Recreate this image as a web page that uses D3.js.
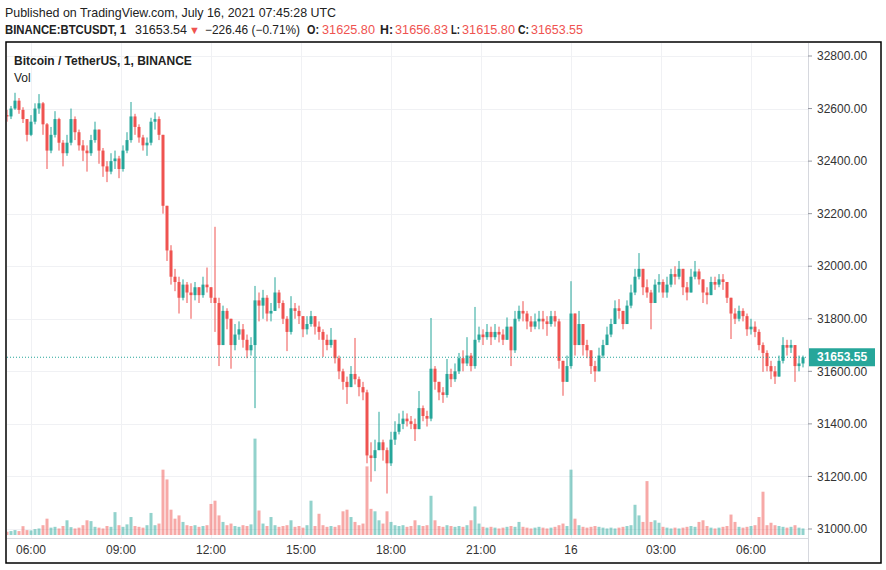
<!DOCTYPE html>
<meta charset="utf-8">
<script src="https://d3js.org/d3.v7.min.js"></script>
<style>
  body { margin: 0; background: #fff; }
  text { font-family: "Liberation Sans", Arial, sans-serif; }
</style>
<div id="chart"></div>
<script>

// 8-minute candles, starting 2021-07-15 05:08 UTC
var startTime = new Date(Date.UTC(2021, 6, 15, 5, 8));
var barMinutes = 8;
var firstOpen = 32575;

var closes = [
  32570, 32600, 32630, 32595, 32560, 32500, 32550, 32600, 32620, 32540,
  32440, 32500, 32560, 32470, 32430, 32470, 32560, 32510, 32460, 32440,
  32430, 32480, 32520, 32440, 32380, 32360, 32400, 32410, 32370, 32440,
  32480, 32570, 32530, 32490, 32460, 32470, 32550, 32560, 32500, 32230,
  32060, 31960, 31940, 31880, 31930, 31900, 31890, 31920, 31890, 31930,
  31920, 31880, 31860, 31700, 31830, 31800, 31700, 31740, 31760, 31720,
  31680, 31700, 31870, 31850, 31880, 31820, 31830, 31900, 31860, 31800,
  31750, 31840, 31830, 31810, 31760, 31780, 31810, 31770, 31750, 31720,
  31700, 31720, 31650, 31600, 31560, 31540, 31590, 31570, 31540, 31520,
  31280, 31270, 31300, 31330, 31300, 31250, 31340, 31370, 31400, 31420,
  31410, 31400, 31380, 31460, 31430, 31420, 31610, 31560, 31520, 31510,
  31590, 31570, 31600, 31650, 31630, 31660, 31620, 31720, 31740, 31730,
  31750, 31730, 31750, 31740, 31720, 31770, 31680, 31800, 31830, 31820,
  31790, 31770, 31790, 31800, 31790, 31780, 31810, 31790, 31640, 31560,
  31620, 31820, 31700, 31780, 31700, 31680, 31620, 31600, 31660, 31700,
  31740, 31780, 31840, 31830, 31780, 31850, 31900, 31960, 31990, 31920,
  31900, 31860, 31930, 31940, 31900, 31930, 31970, 31960, 31990, 31920,
  31900, 31960, 31980, 31950, 31900, 31890, 31940, 31930, 31950, 31940,
  31880, 31820, 31800, 31830, 31810, 31760, 31770, 31750, 31700, 31670,
  31620, 31600, 31580, 31640, 31700, 31690, 31700, 31620, 31630, 31653.55
];

var highs = [
  32595, 32610, 32660, 32640, 32605, 32560, 32575, 32620, 32655, 32625,
  32545, 32530, 32590, 32565, 32480, 32500, 32600, 32570, 32520, 32480,
  32460, 32500, 32550, 32520, 32450, 32400, 32430, 32440, 32420, 32460,
  32510, 32625, 32580, 32540, 32500, 32490, 32565, 32585, 32570, 32500,
  32180, 32080, 31990, 31960, 31950, 31940, 31935, 31940, 31920, 31960,
  31995, 31920, 32150, 31880, 31850, 31840, 31800, 31780, 31790, 31780,
  31740, 31730, 31925, 31900, 31910, 31890, 31860, 31958, 31910, 31870,
  31810, 31886, 31860, 31850, 31810, 31810, 31830, 31810, 31790, 31760,
  31740, 31765, 31720, 31660, 31610, 31580, 31620, 31727, 31580, 31560,
  31530, 31330, 31340, 31446, 31340, 31310, 31370, 31410, 31440, 31450,
  31440, 31430, 31420, 31525, 31470, 31450, 31803, 31620, 31560, 31540,
  31647, 31610, 31630, 31670, 31680, 31730, 31670, 31845, 31770, 31760,
  31780, 31770, 31780, 31770, 31760, 31805, 31760, 31830, 31850, 31867,
  31830, 31810, 31820, 31830, 31830, 31810, 31830, 31830, 31800, 31640,
  31660, 31943, 31820, 31830, 31780, 31720, 31670, 31640, 31690, 31720,
  31770, 31800, 31870, 31875, 31830, 31870, 31930, 31990, 32050, 31990,
  31950, 31910, 31950, 31970, 31950, 31960, 31990, 32000, 32020, 31980,
  31940, 31990, 32020, 31990, 31950, 31920, 31960, 31960, 31970, 31970,
  31940, 31880, 31840, 31850, 31840, 31820, 31800, 31790, 31760, 31710,
  31680, 31640, 31620, 31660, 31730, 31720, 31720, 31700, 31660, 31660
];

var lows = [
  32550, 32560, 32595, 32580, 32545, 32475, 32495, 32540, 32580, 32500,
  32370, 32430, 32490, 32440, 32380, 32420, 32460, 32480, 32440, 32400,
  32360, 32420, 32470, 32390, 32340, 32320, 32350, 32370, 32335, 32360,
  32430, 32470, 32500, 32470, 32440, 32420, 32460, 32520, 32480, 32200,
  32020, 31930, 31905, 31820, 31870, 31860, 31800, 31870, 31860, 31880,
  31900, 31860, 31750, 31620, 31700, 31760, 31610, 31680, 31720, 31690,
  31650, 31660, 31460, 31790, 31800, 31790, 31790, 31840, 31840, 31780,
  31677, 31740, 31800, 31780, 31730, 31740, 31770, 31740, 31720, 31655,
  31680, 31690, 31630, 31570, 31530, 31476, 31560, 31550, 31505, 31490,
  31250, 31180, 31220, 31300, 31260, 31135, 31240, 31320, 31360, 31380,
  31390, 31380, 31335, 31390, 31410, 31390, 31410, 31530, 31490, 31480,
  31500, 31540, 31560, 31590, 31600, 31620, 31600, 31610, 31710, 31700,
  31720, 31700, 31720, 31710, 31700, 31730, 31620, 31670, 31790, 31790,
  31760, 31750, 31760, 31760, 31760, 31735, 31770, 31770, 31610, 31507,
  31570, 31610, 31660, 31700, 31660, 31650, 31590, 31560, 31600, 31650,
  31710, 31730, 31790, 31800, 31760, 31790, 31840, 31890, 31950, 31890,
  31880, 31760, 31860, 31900, 31880, 31880, 31920, 31930, 31950, 31890,
  31870, 31900, 31950, 31930, 31860, 31855, 31890, 31910, 31920, 31910,
  31860, 31723, 31780, 31790, 31790, 31735, 31740, 31730, 31680, 31598,
  31600, 31570, 31552, 31580, 31630, 31660, 31670, 31560, 31600, 31615
];

// tallest 1-minute volume bar (BTC) seen in each 8-minute slot
var volumes = [
  20, 24, 30, 24, 54, 30, 28, 36, 40, 60,
  100, 45, 50, 40, 55, 90, 48, 40, 45, 60,
  90, 85, 50, 45, 40, 55, 50, 140, 60, 50,
  65, 110, 55, 50, 45, 60, 135, 60, 70, 400,
  340, 155, 100, 120, 80, 60, 55, 60, 50, 55,
  60, 190, 210, 120, 80, 60, 70, 55, 50, 60,
  55, 65, 590, 150, 70, 55, 110, 60, 50, 55,
  60, 90, 50, 55, 45, 60, 210, 55, 130, 60,
  50, 55, 50, 60, 145, 155, 110, 80, 60, 70,
  420, 160, 145, 90, 70, 145, 80, 60, 55, 60,
  50, 55, 90, 60, 55, 60, 240, 90, 55, 50,
  60, 55, 50, 55, 50, 60, 90, 175, 70, 50,
  45, 50, 45, 40, 45, 50, 55, 50, 80, 50,
  45, 40, 45, 50, 45, 40, 45, 50, 60, 70,
  55, 400, 100, 60, 50, 45, 50, 55, 50, 45,
  40, 45, 40, 45, 50, 55, 60, 185, 120, 80,
  330, 80, 90, 75, 50, 45, 40, 45, 40, 45,
  50, 55, 50, 80, 90, 55, 45, 40, 45, 50,
  55, 125, 80, 50, 45, 50, 55, 60, 110, 265,
  60, 75, 60, 55, 50, 45, 50, 60, 45, 40
];

var priceTicks = [31000, 31200, 31400, 31600, 31800, 32000, 32200, 32400, 32600, 32800];
var timeTicks = [
  Date.UTC(2021, 6, 15, 6), Date.UTC(2021, 6, 15, 9), Date.UTC(2021, 6, 15, 12),
  Date.UTC(2021, 6, 15, 15), Date.UTC(2021, 6, 15, 18), Date.UTC(2021, 6, 15, 21),
  Date.UTC(2021, 6, 16, 0), Date.UTC(2021, 6, 16, 3), Date.UTC(2021, 6, 16, 6)
];
var timeLabels = ["06:00", "09:00", "12:00", "15:00", "18:00", "21:00", "16", "03:00", "06:00"];

var upColor = "#26a69a", downColor = "#ef5350";

// build candle table
var candles = closes.map(function(c, i) {
  var o = i == 0 ? firstOpen : closes[i - 1];
  return {
    t: new Date(startTime.getTime() + (i * barMinutes + barMinutes / 2) * 60000),
    o: o, c: c,
    h: Math.max(highs[i], o, c),
    l: Math.min(lows[i], o, c),
    v: volumes[i]
  };
});

var width = 886, height = 570;
var plot = {left: 7, right: 808, top: 43, bottom: 538};

var svg = d3.select("#chart").append("svg")
  .attr("width", width)
  .attr("height", height);

var x = d3.scaleUtc()
  .domain([new Date(timeTicks[0]), new Date(timeTicks[8])])
  .range([31, 751]);

var y = d3.scaleLinear()
  .domain([31000, 32800])
  .range([529, 56]);

var yVol = d3.scaleLinear()
  .domain([0, 600])
  .range([535, 437]);

svg.append("clipPath").attr("id", "clip")
  .append("rect")
    .attr("x", plot.left).attr("y", plot.top)
    .attr("width", plot.right - plot.left)
    .attr("height", plot.bottom - plot.top);

// grid
svg.append("g").selectAll("line.h")
  .data(priceTicks)
  .enter().append("line")
    .attr("x1", plot.left).attr("x2", plot.right)
    .attr("y1", function(d) { return Math.round(y(d)) + 0.5; })
    .attr("y2", function(d) { return Math.round(y(d)) + 0.5; })
    .attr("stroke", "#f0f1f4");

svg.append("g").selectAll("line.v")
  .data(timeTicks)
  .enter().append("line")
    .attr("x1", function(d) { return Math.round(x(d)) + 0.5; })
    .attr("x2", function(d) { return Math.round(x(d)) + 0.5; })
    .attr("y1", plot.top).attr("y2", plot.bottom)
    .attr("stroke", "#f0f1f4");

var chart = svg.append("g").attr("clip-path", "url(#clip)");

// volume
chart.append("g").selectAll("rect")
  .data(candles)
  .enter().append("rect")
    .attr("x", function(d) { return x(d.t) - 1.5; })
    .attr("width", 3)
    .attr("y", function(d) { return yVol(d.v); })
    .attr("height", function(d) { return yVol(0) - yVol(d.v); })
    .attr("fill", function(d) { return d.c >= d.o ? upColor : downColor; })
    .attr("opacity", 0.5);

// wicks
chart.append("g").selectAll("line")
  .data(candles)
  .enter().append("line")
    .attr("x1", function(d) { return x(d.t); })
    .attr("x2", function(d) { return x(d.t); })
    .attr("y1", function(d) { return y(d.h); })
    .attr("y2", function(d) { return y(d.l); })
    .attr("stroke", function(d) { return d.c >= d.o ? upColor : downColor; })
    .attr("stroke-width", 1);

// bodies
chart.append("g").selectAll("rect")
  .data(candles)
  .enter().append("rect")
    .attr("x", function(d) { return x(d.t) - 1.5; })
    .attr("width", 3)
    .attr("y", function(d) { return y(Math.max(d.o, d.c)); })
    .attr("height", function(d) { return Math.max(1, Math.abs(y(d.o) - y(d.c))); })
    .attr("fill", function(d) { return d.c >= d.o ? upColor : downColor; });

// last price line
var last = candles[candles.length - 1].c;
chart.append("line")
  .attr("x1", plot.left).attr("x2", plot.right)
  .attr("y1", y(last)).attr("y2", y(last))
  .attr("stroke", upColor)
  .attr("stroke-dasharray", "1,2");

// axis separators
svg.append("line")
  .attr("x1", plot.right + 0.5).attr("x2", plot.right + 0.5)
  .attr("y1", plot.top).attr("y2", 562)
  .attr("stroke", "#d6d8de");
svg.append("line")
  .attr("x1", plot.left).attr("x2", plot.right)
  .attr("y1", plot.bottom + 0.5).attr("y2", plot.bottom + 0.5)
  .attr("stroke", "#d6d8de");

// price axis
var yAxis = svg.append("g").selectAll("g")
  .data(priceTicks)
  .enter().append("g")
    .attr("transform", function(d) { return "translate(0," + y(d) + ")"; });
yAxis.append("line")
  .attr("x1", plot.right).attr("x2", plot.right + 4)
  .attr("stroke", "#9598a1");
yAxis.append("text")
  .attr("x", 817)
  .attr("dy", "0.35em")
  .attr("font-size", 12)
  .attr("fill", "#333")
  .text(function(d) { return d3.format(".2f")(d); });

// last price tag
svg.append("rect")
  .attr("x", plot.right + 1).attr("y", y(last) - 9)
  .attr("width", 66).attr("height", 18)
  .attr("fill", upColor);
svg.append("text")
  .attr("x", 817).attr("y", y(last))
  .attr("dy", "0.35em")
  .attr("font-size", 12)
  .attr("font-weight", "bold")
  .attr("fill", "#fff")
  .text(d3.format(".2f")(last));

// time axis
svg.append("g").selectAll("text")
  .data(timeTicks)
  .enter().append("text")
    .attr("x", function(d) { return x(d); })
    .attr("y", 554)
    .attr("text-anchor", "middle")
    .attr("font-size", 12)
    .attr("fill", "#333")
    .text(function(d, i) { return timeLabels[i]; });

// frame
svg.append("rect")
  .attr("x", 6).attr("y", 42)
  .attr("width", 875).attr("height", 521)
  .attr("fill", "none")
  .attr("stroke", "#000")
  .attr("stroke-width", 1.5);

// header
svg.append("text")
  .attr("x", 5).attr("y", 17)
  .attr("font-size", 13)
  .attr("fill", "#222")
  .attr("textLength", 331)
  .attr("lengthAdjust", "spacingAndGlyphs")
  .text("Published on TradingView.com, July 16, 2021 07:45:28 UTC");

// symbol line: [text, x, width, bold, red]
var headerParts = [
  ["BINANCE:BTCUSDT, 1", 5, 121, true, false],
  ["31653.54", 135, 52, false, false],
  ["\u25BC", 189, 0, false, true],
  ["\u2212226.46 (\u22120.71%)", 205, 95, false, false],
  ["O:", 307, 12, true, false],
  ["31625.80", 322, 53, false, true],
  ["H:", 380, 13, true, false],
  ["31656.83", 395, 53, false, true],
  ["L:", 451, 9, true, false],
  ["31615.80", 462, 53, false, true],
  ["C:", 518, 11, true, false],
  ["31653.55", 531, 52, false, true]
];
headerParts.forEach(function(p) {
  var t = svg.append("text")
    .attr("x", p[1]).attr("y", 34)
    .attr("font-size", p[2] ? 12 : 11)
    .attr("font-weight", p[3] ? "bold" : "normal")
    .attr("fill", p[4] ? downColor : "#222")
    .text(p[0]);
  if (p[2]) t.attr("textLength", p[2]).attr("lengthAdjust", "spacingAndGlyphs");
});

// legend
svg.append("text")
  .attr("x", 14).attr("y", 65)
  .attr("font-size", 12)
  .attr("font-weight", "bold")
  .attr("fill", "#222")
  .text("Bitcoin / TetherUS, 1, BINANCE");
svg.append("text")
  .attr("x", 14).attr("y", 82)
  .attr("font-size", 12)
  .attr("fill", "#222")
  .text("Vol");

</script>
